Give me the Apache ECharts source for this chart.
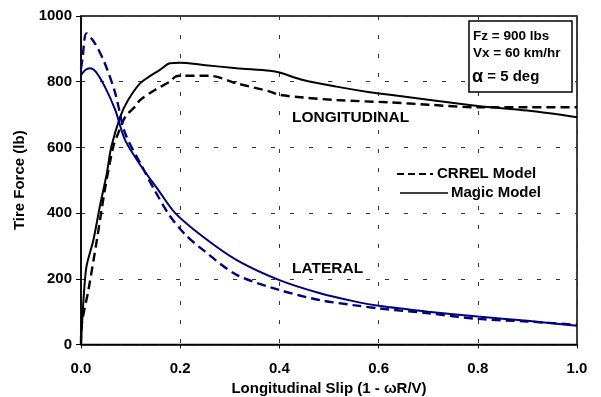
<!DOCTYPE html>
<html>
<head>
<meta charset="utf-8">
<script src="https://cdn.jsdelivr.net/npm/echarts@6/dist/echarts.min.js"></script>
<style>html,body{margin:0;padding:0;background:#fff}#c{width:601px;height:397px}</style>
</head>
<body>
<div id="c"></div>
<script>
// ---- data (x = longitudinal slip, y = tire force lb) ----
var xTicks = [0.0, 0.2, 0.4, 0.6, 0.8, 1.0];
var yTicks = [0, 200, 400, 600, 800, 1000];

var lonMagic = [[0,0],[0.002,60],[0.005,135],[0.011,237],[0.025,318],[0.038,420],[0.052,521],[0.061,601],[0.079,693],[0.095,744],[0.119,795],[0.142,820],[0.159,836],[0.179,856],[0.2,858],[0.246,851],[0.314,841],[0.381,833],[0.40,828],[0.448,805],[0.515,785],[0.582,768],[0.623,760],[0.7,745],[0.8,726],[0.9,712],[1.0,692]];
var lonCrrel = [[0,0],[0.001,54],[0.015,166],[0.032,318],[0.048,470],[0.065,602],[0.075,643],[0.09,695],[0.109,724],[0.119,744],[0.149,775],[0.179,800],[0.19,815],[0.2,818],[0.26,818],[0.314,795],[0.381,770],[0.40,760],[0.448,752],[0.515,744],[0.623,737],[0.7,730],[0.8,722],[0.9,722],[1.0,722]];
var latMagic = [[0,820],[0.008,835],[0.018,841],[0.03,830],[0.048,785],[0.069,714],[0.089,622],[0.122,541],[0.156,470],[0.19,400],[0.246,328],[0.314,257],[0.40,196],[0.482,156],[0.549,132],[0.6,118],[0.7,100],[0.8,85],[0.9,72],[1.0,57]];
var latCrrel = [[0,840],[0.003,870],[0.011,947],[0.028,917],[0.048,856],[0.069,765],[0.089,643],[0.122,545],[0.149,468],[0.179,392],[0.21,335],[0.246,288],[0.314,212],[0.40,166],[0.482,135],[0.549,120],[0.6,110],[0.7,95],[0.8,78],[0.9,70],[1.0,60]];

var seriesNames = ['CRREL Model', 'Magic Model'];
var curveLabels = ['LONGITUDINAL', 'LATERAL'];
var infoLines = ['Fz = 900 lbs', 'Vx = 60 km/hr', '5 deg'];

var FONT = '"Liberation Sans", Arial, sans-serif';
var BLUE = '#000080';
var chart = echarts.init(document.getElementById('c'), null, {renderer: 'canvas'});

function line(name, data, color, dashed) {
  return {
    name: name, type: 'line', data: data, showSymbol: false, smooth: 0.3,
    lineStyle: {color: color, width: dashed ? 2.4 : 2, type: dashed ? [9, 5] : 'solid'},
    z: 3, silent: true
  };
}

chart.setOption({
  animation: false,
  backgroundColor: '#fff',
  grid: {left: 81, right: 24, top: 16, bottom: 52.5, containLabel: false, outerBoundsMode: 'none',
    show: true, borderColor: '#000', borderWidth: 1.5, backgroundColor: 'transparent'},
  xAxis: {
    type: 'value', min: 0, max: 1, interval: 0.2,
    name: 'Longitudinal Slip (1 - \u03c9R/V)', nameLocation: 'middle', nameGap: 37,
    nameTextStyle: {fontFamily: FONT, fontWeight: 'bold', fontSize: 15, color: '#000'},
    axisLine: {lineStyle: {color: '#000', width: 1.5}},
    axisTick: {show: true, length: 4, lineStyle: {color: '#000'}},
    axisLabel: {fontFamily: FONT, fontWeight: 'bold', fontSize: 15, color: '#000', margin: 17,
      formatter: function (v) { return v.toFixed(1); }},
    splitLine: {show: true, lineStyle: {color: '#333', width: 1, type: [4, 15]}}
  },
  yAxis: {
    type: 'value', min: 0, max: 1000, interval: 200,
    name: 'Tire Force (lb)', nameLocation: 'middle', nameGap: 45,
    nameTextStyle: {fontFamily: FONT, fontWeight: 'bold', fontSize: 15, color: '#000'},
    axisLine: {show: true, lineStyle: {color: '#000', width: 1.5}},
    axisTick: {show: true, length: 5, lineStyle: {color: '#000'}},
    axisLabel: {fontFamily: FONT, fontWeight: 'bold', fontSize: 15, color: '#000', margin: 9,
      formatter: function (v) { return String(v); }},
    splitLine: {show: true, lineStyle: {color: '#333', width: 1, type: [4, 15]}}
  },
  series: [
    line(seriesNames[0] + ' lon', lonCrrel, '#000', true),
    line(seriesNames[1] + ' lon', lonMagic, '#000', false),
    line(seriesNames[0] + ' lat', latCrrel, BLUE, true),
    line(seriesNames[1] + ' lat', latMagic, BLUE, false)
  ],
  graphic: [
    {type: 'text', left: 292, top: 110, style: {text: curveLabels[0], font: 'bold 15.5px ' + FONT, fill: '#000'}},
    {type: 'text', left: 292, top: 261, style: {text: curveLabels[1], font: 'bold 15.5px ' + FONT, fill: '#000'}},
    // legend
    {type: 'line', shape: {x1: 397, y1: 174, x2: 433, y2: 174}, style: {stroke: '#000', lineWidth: 2.2, lineDash: [7, 4]}},
    {type: 'text', left: 437, top: 166, style: {text: seriesNames[0], font: 'bold 15px ' + FONT, fill: '#000'}},
    {type: 'line', shape: {x1: 400, y1: 193, x2: 448, y2: 193}, style: {stroke: '#000', lineWidth: 1.6}},
    {type: 'text', left: 451, top: 185, style: {text: seriesNames[1], font: 'bold 15px ' + FONT, fill: '#000'}},
    // info box
    {type: 'rect', shape: {x: 469, y: 21, width: 103, height: 71}, style: {fill: '#fff', stroke: '#000', lineWidth: 1.5}, z: 10},
    {type: 'text', left: 473, top: 29, z: 11, style: {text: infoLines[0], font: 'bold 13.5px ' + FONT, fill: '#000'}},
    {type: 'text', left: 473, top: 46, z: 11, style: {text: infoLines[1], font: 'bold 13.5px ' + FONT, fill: '#000'}},
    {type: 'text', left: 472, top: 68, z: 11, style: {
      text: '{a|\u03b1}{b| = ' + infoLines[2] + '}',
      rich: {a: {font: 'bold 18px ' + FONT, fill: '#000'}, b: {font: 'bold 15px ' + FONT, fill: '#000'}}
    }}
  ]
});
</script>
</body>
</html>
